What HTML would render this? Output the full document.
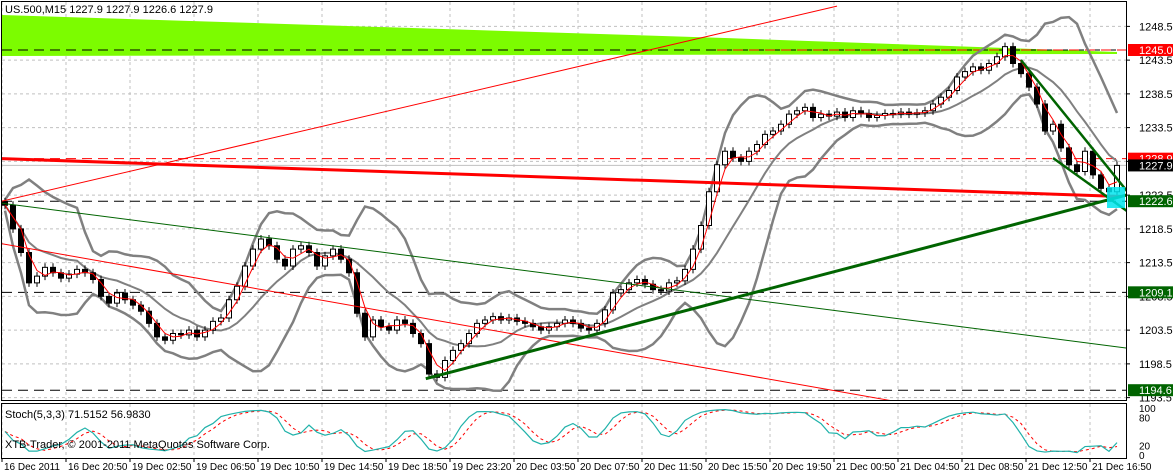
<!DOCTYPE html>
<html><head><meta charset="utf-8"><style>
html,body{margin:0;padding:0;background:#fff;}
svg{display:block;font-family:"Liberation Sans",sans-serif;}
</style></head><body>
<svg id="c" width="1173" height="473" viewBox="0 0 1173 473"></svg>
<script>
const closes=[1222,1218.5,1215,1210.5,1211.5,1212.8,1212,1211.2,1211.8,1212.5,1212,1211,1208.5,1207.5,1209,1208,1207.2,1206.3,1204.5,1202.5,1202,1203,1202.8,1203.5,1202.5,1203.5,1204.8,1205.3,1208,1210,1213,1215.5,1217,1216,1214,1213,1215.5,1216,1215,1213,1214.5,1215.5,1214,1212,1206,1202.5,1205,1204,1203.5,1205,1204.5,1203,1201.5,1197,1196.5,1199,1200.5,1201.5,1203,1204.5,1205,1205.5,1205,1205.3,1204.8,1204.5,1204,1203.5,1204,1204.5,1205,1204.5,1203.8,1203.5,1204.5,1206.5,1209,1209.5,1210.5,1211,1210.3,1209.5,1209.3,1210.5,1210.8,1212.5,1215.5,1219,1224,1228,1230,1229,1228.5,1230,1231,1232.5,1233,1234,1235.5,1236,1236.5,1235,1235.5,1235.2,1235.8,1235,1236,1235.6,1235,1235.3,1235.6,1235.5,1235.8,1235.5,1235.7,1236,1237,1238,1239,1241,1241.8,1242.5,1242,1243,1244,1245.5,1243,1241.5,1239.5,1237,1233,1234,1230.5,1228,1227,1230,1226.5,1224.5,1224,1227.9];
const priceTicks=[1248.5,1243.5,1238.5,1233.5,1228.5,1223.5,1218.5,1213.5,1208.5,1203.5,1198.5,1193.5];
const timeLabels=["16 Dec 2011","16 Dec 20:50","19 Dec 02:50","19 Dec 06:50","19 Dec 10:50","19 Dec 14:50","19 Dec 18:50","19 Dec 23:20","20 Dec 03:50","20 Dec 07:50","20 Dec 11:50","20 Dec 15:50","20 Dec 19:50","21 Dec 00:50","21 Dec 04:50","21 Dec 08:50","21 Dec 12:50","21 Dec 16:50"];
const levels=[{p:1245.0,c:"#ff0000"},{p:1228.9,c:"#ff0000"},{p:1222.6,c:"#006400"},{p:1209.1,c:"#006400"},{p:1194.6,c:"#006400"}];
// trendlines: [startIndex, startPrice, endIndex, endPrice]
const trendRedThin1=[-0.4,1222.6,104,1251.5];
const trendRedThick=[-0.4,1228.9,139.5,1223.3];
const trendRedThin2=[-0.4,1216.3,111,1193];
const trendGreenThin=[-0.4,1222.3,140.5,1200.8];
const trendGreenThick=[52.6,1196.3,140.5,1223.6];
const trendGreenA=[127,1243.5,141,1223];
const trendGreenB=[131,1229,141,1220.5];

const S="http://www.w3.org/2000/svg";
const svg=document.getElementById('c');
const L=2,R=1126,T=2,B=400;
const X=i=>5+8*i;
const Y=p=>50+(1245-p)*6.75;
function el(t,a,par){const e=document.createElementNS(S,t);for(const k in a)e.setAttribute(k,a[k]);(par||svg).appendChild(e);return e;}
const defs=el('defs',{});const cp=el('clipPath',{id:'cl'},defs);el('rect',{x:L,y:T,width:R-L,height:B-T},cp);
const cp2=el('clipPath',{id:'cl2'},defs);el('rect',{x:L,y:404,width:R-L,height:54},cp2);
const g=el('g',{'clip-path':'url(#cl)'});
timeLabels.forEach((t,i)=>{const x=2+64*i;
 const ln=el('line',{x1:x,y1:T,x2:x,y2:B,stroke:'#c0c0c0','stroke-dasharray':'3,3'},g);
 
 const l2=el('line',{x1:x,y1:404,x2:x,y2:458,stroke:'#c0c0c0','stroke-dasharray':'3,3'});
 
 const tx=el('text',{x:x+2,y:470,'font-size':'10',fill:'#000'});tx.textContent=t;
 
 el('line',{x1:x,y1:458,x2:x,y2:462,stroke:'#000'});
});
priceTicks.forEach(p=>{const y=Y(p);
 const ln=el('line',{x1:L,y1:y,x2:R,y2:y,stroke:'#c0c0c0','stroke-dasharray':'3,3'},g);
 
 el('line',{x1:R,y1:y,x2:R+4,y2:y,stroke:'#000'});
 const tx=el('text',{x:1139,y:y+4,'font-size':'11',fill:'#000'});tx.textContent=p.toFixed(1);
 
});
const gz=el('polygon',{points:`${L},15 ${X(90)},38 ${X(139)},52 ${X(139)},54 ${L},56`,fill:'#7cfc00'},g);

levels.forEach(lv=>{const y=Y(lv.p);
 const ln=el('line',{x1:L,y1:y,x2:R,y2:y,stroke:lv.p===1228.9?'#ff0000':'#000','stroke-dasharray':'10,6'},g);
 
});
el('line',{x1:X(89),y1:Y(1245),x2:R,y2:Y(1245),stroke:'#ff0000','stroke-dasharray':'10,6'},g);
el('line',{x1:L,y1:Y(1227.9),x2:R,y2:Y(1227.9),stroke:'#c0c0c0'},g);
const N=10,bu=[],bm=[],bl=[],ma=[];
closes.forEach((c,i)=>{const s=closes.slice(Math.max(0,i-N+1),i+1);const m=s.reduce((a,b)=>a+b,0)/s.length;
 const sd=Math.sqrt(s.reduce((a,b)=>a+(b-m)*(b-m),0)/s.length);bm.push(m);bu.push(m+2*sd+0.8);bl.push(m-2*sd-0.8);
 const s2=closes.slice(Math.max(0,i-2),i+1);ma.push(s2.reduce((a,b)=>a+b,0)/s2.length);});
function pl(arr,st,w,name,par){const p=el('polyline',{points:arr.map((v,i)=>X(i)+','+Y(v)).join(' '),fill:'none',stroke:st,'stroke-width':w},par||g);
 return p;}
pl(bu,'#808080',2.5,'bollinger-upper');pl(bl,'#808080',2.5,'bollinger-lower');pl(bm,'#808080',2,'bollinger-middle');
closes.forEach((c,i)=>{const o=i?closes[i-1]:c+0.5;const hi=Math.max(o,c)+0.6,lo=Math.min(o,c)-0.6;const x=X(i);
 const w=el('line',{x1:x,y1:Y(hi),x2:x,y2:Y(lo),stroke:'#000'},g);
 
 const top=Y(Math.max(o,c)),h=Math.max(1,Math.abs(Y(o)-Y(c)));
 const b=el('rect',{x:x-2.5,y:top,width:5,height:h,fill:c>=o?'#fff':'#000',stroke:'#000','stroke-width':1},g);
 
});
pl(ma,'#ff0000',1,'moving-average');
function tl(d,st,w,name){const e=el('line',{x1:X(d[0]),y1:Y(d[1]),x2:X(d[2]),y2:Y(d[3]),stroke:st,'stroke-width':w},g);
 }
tl(trendRedThin1,'#ff0000',1,'red-trendline-up');
tl(trendRedThick,'#ff0000',3,'red-trendline-thick');
tl(trendRedThin2,'#ff0000',1,'red-trendline-down');
tl(trendGreenThin,'#006400',1,'green-trendline-thin');
tl(trendGreenThick,'#006400',3,'green-trendline-thick');
tl(trendGreenA,'#006400',2.5,'green-channel-top');
tl(trendGreenB,'#006400',2.5,'green-channel-bottom');
const cy=el('rect',{x:1107,y:187,width:18,height:21,fill:'#00e5ee',opacity:0.85},g);

const fr=el('rect',{x:L-0.5,y:T-0.5,width:R-L+1,height:B-T+1,fill:'none',stroke:'#000'});

const ttl=el('text',{x:5,y:13,'font-size':'11',fill:'#000'});ttl.textContent='US.500,M15 1227.9 1227.9 1226.6 1227.9';

levels.concat([{p:1227.9,c:'#000'}]).forEach(lv=>{const y=Y(lv.p);
 const r=el('rect',{x:1128,y:y-6,width:45,height:12,fill:lv.c});
 
 const t=el('text',{x:1139,y:y+4,'font-size':'11',fill:'#fff'});t.textContent=lv.p.toFixed(1);
});
const sK=[],sKs=[],sD=[];
closes.forEach((c,i)=>{const s=closes.slice(Math.max(0,i-4),i+1).concat(i?[closes[Math.max(0,i-5)]]:[]);
 const hi=Math.max(...s)+0.6,lo=Math.min(...s)-0.6;sK.push(100*(c-lo)/(hi-lo));});
sK.forEach((v,i)=>{const s=sK.slice(Math.max(0,i-2),i+1);sKs.push(s.reduce((a,b)=>a+b,0)/s.length);});
sKs.forEach((v,i)=>{const s=sKs.slice(Math.max(0,i-2),i+1);sD.push(s.reduce((a,b)=>a+b,0)/s.length);});
const SY=v=>455-v*0.47;
const g2=el('g',{'clip-path':'url(#cl2)'});
const pd=el('polyline',{points:sD.map((v,i)=>X(i)+','+SY(v)).join(' '),fill:'none',stroke:'#ff0000','stroke-dasharray':'3,3'},g2);

const pk=el('polyline',{points:sKs.map((v,i)=>X(i)+','+SY(v)).join(' '),fill:'none',stroke:'#20b2aa','stroke-width':1.2},g2);

const sf=el('rect',{x:L-0.5,y:403.5,width:R-L+1,height:55,fill:'none',stroke:'#000'});

const st=el('text',{x:5,y:418,'font-size':'11',fill:'#000'});st.textContent='Stoch(5,3,3) 71.5152 56.9830';

const cr=el('text',{x:5,y:448,'font-size':'11',fill:'#000'});cr.textContent='XTB-Trader, © 2001-2011 MetaQuotes Software Corp.';

[[100,'100'],[80,'80'],[20,'20'],[0,'0']].forEach(a=>{const t=el('text',{x:1139,y:SY(a[0])+4,'font-size':'10',fill:'#000'});t.textContent=a[1];
 });
</script>
</body></html>
